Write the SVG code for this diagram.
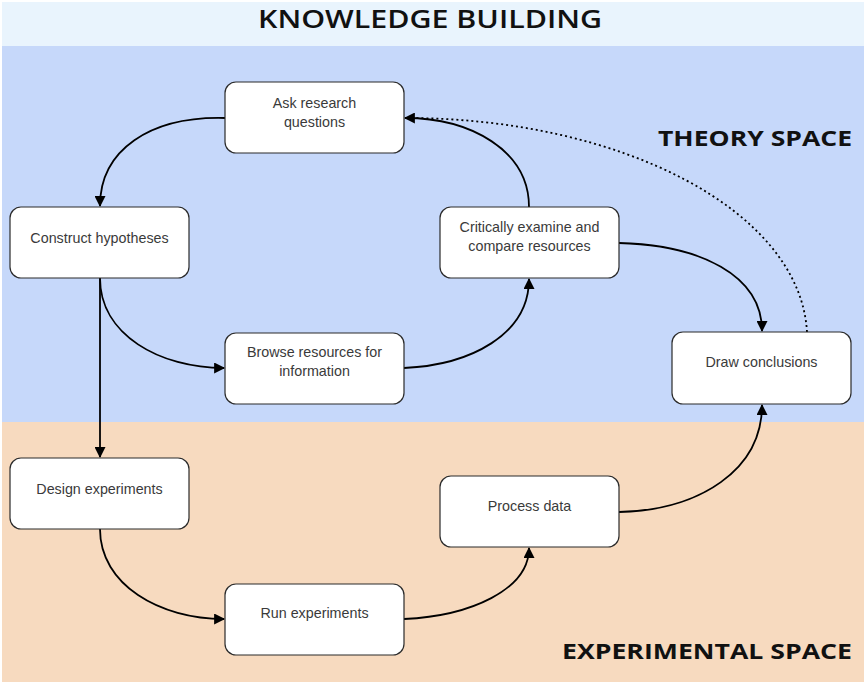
<svg xmlns="http://www.w3.org/2000/svg" width="867" height="686" viewBox="0 0 867 686">
<defs>
<style>
.node rect{fill:#fff;stroke:#2b2b2b;stroke-width:1.2}
.node text{font-family:"Liberation Sans",Arial,sans-serif;font-size:14.3px;fill:#3a3a3a;text-anchor:middle}
.band{font-family:"Open Sans","Liberation Sans",sans-serif;font-weight:bold;fill:#111}
.title{font-family:"Open Sans","Liberation Sans",sans-serif;font-weight:600;fill:#111}
.conn path{fill:none;stroke:#000;stroke-width:1.8}
</style>
<marker id="ah" viewBox="0 0 10 10" refX="9" refY="5" markerWidth="12" markerHeight="11" markerUnits="userSpaceOnUse" orient="auto"><path d="M0,0 L10,5 L0,10 z" fill="#000"/></marker>
</defs>
<rect x="0" y="0" width="867" height="686" fill="#fff"/>
<rect x="2" y="2" width="862" height="44" fill="#E9F4FD"/>
<rect x="2" y="46" width="862" height="376" fill="#C6D8FA"/>
<rect x="2" y="422" width="862" height="260" fill="#F7DABF"/>
<text class="title" x="430" y="28" font-size="25" text-anchor="middle" textLength="344" lengthAdjust="spacingAndGlyphs">KNOWLEDGE BUILDING</text>
<text class="band" x="658" y="146" font-size="22" textLength="194" lengthAdjust="spacingAndGlyphs">THEORY SPACE</text>
<text class="band" x="562" y="659" font-size="22" textLength="290" lengthAdjust="spacingAndGlyphs">EXPERIMENTAL SPACE</text>
<g class="conn">
<path d="M225,118 C150,116 100,150 100,206" marker-end="url(#ah)"/>
<path d="M100,278 C100,335 160,368 224,368" marker-end="url(#ah)"/>
<path d="M100,278 L100,457" marker-end="url(#ah)"/>
<path d="M404,368 C470,365 529,335 529,279" marker-end="url(#ah)"/>
<path d="M529,207 C529,150 470,118 405,118" marker-end="url(#ah)"/>
<path d="M619,243 C700,245 762,275 762,331" marker-end="url(#ah)"/>
<path d="M807,332 C800,210 620,118 406,118" stroke-dasharray="2,3" stroke-width="1.6"/>
<path d="M100,529 C100,585 160,619 224,619" marker-end="url(#ah)"/>
<path d="M404,619 C470,616 529,590 529,548" marker-end="url(#ah)"/>
<path d="M619,512 C700,510 762,470 762,405" marker-end="url(#ah)"/>
</g>
<g id="ask" class="node"><rect x="225" y="82" width="179" height="71" rx="11"/><text x="314.5" y="108">Ask research</text><text x="314.5" y="127">questions</text></g>
<g id="construct" class="node"><rect x="10" y="207" width="179" height="71" rx="11"/><text x="99.5" y="243">Construct hypotheses</text></g>
<g id="critically" class="node"><rect x="440" y="207" width="179" height="71" rx="11"/><text x="529.5" y="232">Critically examine and</text><text x="529.5" y="251">compare resources</text></g>
<g id="browse" class="node"><rect x="225" y="333" width="179" height="71" rx="11"/><text x="314.5" y="357">Browse resources for</text><text x="314.5" y="376">information</text></g>
<g id="draw" class="node"><rect x="672" y="332" width="179" height="72" rx="11"/><text x="761.5" y="367">Draw conclusions</text></g>
<g id="design" class="node"><rect x="10" y="458" width="179" height="71" rx="11"/><text x="99.5" y="494">Design experiments</text></g>
<g id="process" class="node"><rect x="440" y="476" width="179" height="71" rx="11"/><text x="529.5" y="511">Process data</text></g>
<g id="run" class="node"><rect x="225" y="584" width="179" height="71" rx="11"/><text x="314.5" y="618">Run experiments</text></g>
</svg>
